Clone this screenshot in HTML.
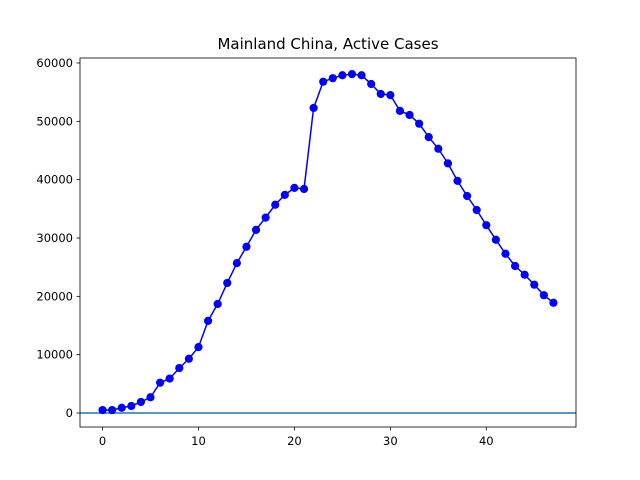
<!DOCTYPE html>
<html><head><meta charset="utf-8"><style>body{margin:0;background:#fff}svg{display:block;font-family:"DejaVu Sans","Liberation Sans",sans-serif}</style></head>
<body>
<svg id="c" width="640" height="480" xmlns="http://www.w3.org/2000/svg">
<rect width="640" height="480" fill="#fff"/>
<text x="328" y="49" font-size="15" text-anchor="middle">Mainland China, Active Cases</text>
</svg>
<script>
const days = [0,1,2,3,4,5,6,7,8,9,10,11,12,13,14,15,16,17,18,19,20,21,22,23,24,25,26,27,28,29,30,31,32,33,34,35,36,37,38,39,40,41,42,43,44,45,46,47];
const activeCases = [500,500,900,1200,1900,2700,5200,5900,7700,9300,11300,15800,18700,22300,25700,28500,31400,33500,35700,37400,38600,38400,52300,56800,57400,57900,58100,57900,56400,54700,54500,51800,51100,49600,47300,45300,42800,39800,37200,34800,32200,29700,27300,25200,23700,22000,20200,18900];
const xTicks = [0,10,20,30,40];
const yTicks = [0,10000,20000,30000,40000,50000,60000];
const L=80,R=576,T=58,B=427;
const xmin=-2.35,xmax=49.35,ymin=-2400,ymax=60860;
const sx=v=>L+(v-xmin)/(xmax-xmin)*(R-L);
const sy=v=>B-(v-ymin)/(ymax-ymin)*(B-T);
const svg=document.getElementById('c');const NS='http://www.w3.org/2000/svg';
function mk(t,a,p){const e=document.createElementNS(NS,t);for(const k in a)e.setAttribute(k,a[k]);(p||svg).appendChild(e);return e;}
xTicks.forEach(v=>{const x=sx(v);
 const l=mk('line',{x1:x,x2:x,y1:B,y2:B+3.5,stroke:'#000','stroke-width':0.8});
 
 
 const t=mk('text',{x:x,y:B+18,'font-size':11.5,'text-anchor':'middle'});t.textContent=v;
 
 });
yTicks.forEach(v=>{const y=sy(v);
 const l=mk('line',{x1:L-3.5,x2:L,y1:y,y2:y,stroke:'#000','stroke-width':0.8});
 
 
 const t=mk('text',{x:L-7,y:y+4,'font-size':11.5,'text-anchor':'end'});t.textContent=v;
 
 });
const z=mk('line',{x1:L,x2:R,y1:sy(0),y2:sy(0),stroke:'#1f77b4','stroke-width':1.5});


const pts=days.map((d,i)=>sx(d)+','+sy(activeCases[i])).join(' ');
const pl=mk('polyline',{points:pts,fill:'none',stroke:'#0000ff','stroke-width':1.5});


days.forEach((d,i)=>{const c=mk('circle',{cx:sx(d),cy:sy(activeCases[i]),r:4.1,fill:'#0000ff'});
 
 });
const f=mk('rect',{x:L,y:T,width:R-L,height:B-T,fill:'none',stroke:'#000','stroke-width':0.8});


</script>
</body></html>
